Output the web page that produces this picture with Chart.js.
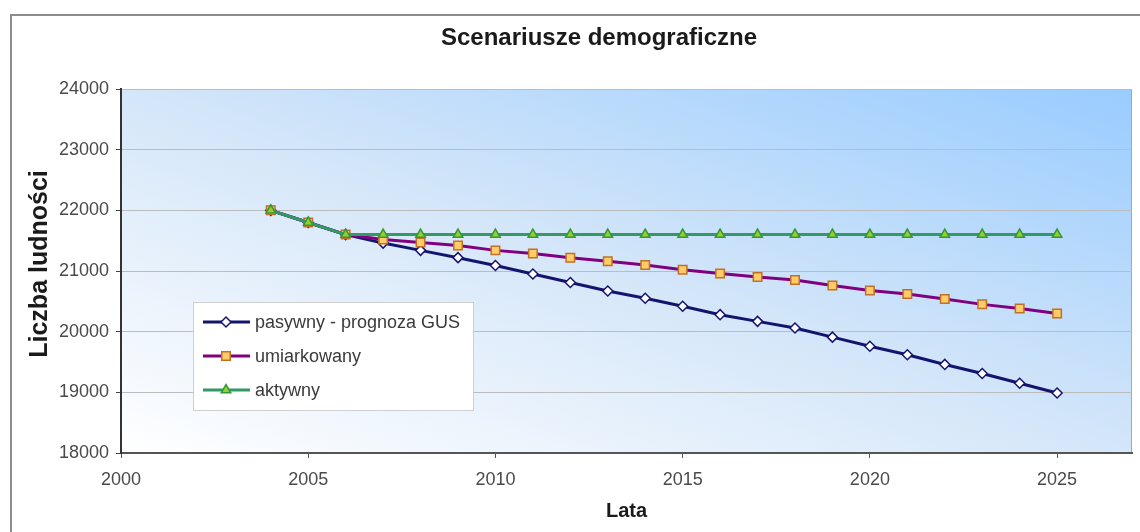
<!DOCTYPE html>
<html lang="pl">
<head>
<meta charset="utf-8">
<title>Scenariusze demograficzne</title>
<script src="https://cdn.jsdelivr.net/npm/chart.js@4.4.1/dist/chart.umd.min.js"></script>
<style>
  html, body { margin: 0; padding: 0; background: #ffffff; }
  body { width: 1140px; height: 532px; overflow: hidden; position: relative; }
  #chartBox {
    position: absolute;
    left: 10px;
    top: 14px;
    width: 1180px;
    height: 540px;
    border: 2px solid #8c8c8c;
    background: #ffffff;
  }
  #chartBox canvas { display: block; }
</style>
</head>
<body>
<div id="chartBox"><canvas id="scenarioChart" width="1180" height="540"></canvas></div>
<script>
  const years = [2004, 2005, 2006, 2007, 2008, 2009, 2010, 2011, 2012, 2013, 2014,
    2015, 2016, 2017, 2018, 2019, 2020, 2021, 2022, 2023, 2024, 2025];
  const pasywny = [22000, 21800, 21600, 21460, 21340, 21220, 21090, 20950, 20810, 20670, 20550,
    20420, 20280, 20170, 20060, 19910, 19760, 19620, 19460, 19310, 19150, 18990];
  const umiarkowany = [22000, 21800, 21600, 21520, 21470, 21420, 21340, 21290, 21220, 21160, 21100,
    21020, 20960, 20900, 20850, 20760, 20680, 20620, 20540, 20450, 20380, 20300];
  const aktywny = [22000, 21800, 21600, 21600, 21600, 21600, 21600, 21600, 21600, 21600, 21600,
    21600, 21600, 21600, 21600, 21600, 21600, 21600, 21600, 21600, 21600, 21600];
  const seriesNames = ["pasywny - prognoza GUS", "umiarkowany", "aktywny"];
  const yearTicks = { min: 2000, max: 2027, step: 5 };
  const populationTicks = { min: 18000, max: 24000, step: 1000 };
  const chartTitle = "Scenariusze demograficzne";
  const yAxisTitle = "Liczba ludności";

  const FONT = "'Liberation Sans', Arial, sans-serif";
  const toPoints = (values) => values.map((value, i) => ({ x: years[i], y: value }));

  // gradient fill of the plot area, white in the lower left corner, blue in the upper right
  const plotBackground = {
    id: "plotBackground",
    beforeDraw(chart) {
      const { ctx, chartArea: area } = chart;
      const w = area.right - area.left;
      const h = area.bottom - area.top;
      const m = (2 * w * h) / (w * w + h * h);
      const gradient = ctx.createLinearGradient(area.left, area.bottom, area.left + h * m, area.bottom - w * m);
      gradient.addColorStop(0, "#ffffff");
      gradient.addColorStop(0.5, "#d4e6f9");
      gradient.addColorStop(1, "#99ccff");
      ctx.save();
      ctx.fillStyle = gradient;
      ctx.fillRect(area.left, area.top, w, h);
      ctx.strokeStyle = "#a8a8a8";
      ctx.lineWidth = 1;
      ctx.strokeRect(area.left + 0.5, area.top + 0.5, w - 1, h);
      ctx.restore();
    },
  };

  // chart title and vertical axis title, placed like in the original sheet
  const sheetTitles = {
    id: "sheetTitles",
    afterDraw(chart) {
      const { ctx } = chart;
      ctx.save();
      ctx.fillStyle = "#1a1a1a";
      ctx.textAlign = "center";
      ctx.textBaseline = "middle";
      ctx.font = "bold 24px " + FONT;
      ctx.fillText(chartTitle, chart.width / 2 - 3, 22);
      ctx.translate(28, 248);
      ctx.rotate(-Math.PI / 2);
      ctx.font = "bold 25px " + FONT;
      ctx.fillText(yAxisTitle, 0, 0);
      ctx.restore();
    },
  };

  // legend box sitting inside the plot area
  const insideLegend = {
    id: "insideLegend",
    afterDraw(chart) {
      const { ctx, chartArea: area } = chart;
      const boxLeft = area.left + 72;
      const boxTop = area.top + 213;
      const rowGap = 34;
      ctx.save();
      ctx.fillStyle = "#ffffff";
      ctx.fillRect(boxLeft, boxTop, 280, 108);
      ctx.strokeStyle = "#d0d0d0";
      ctx.lineWidth = 1;
      ctx.strokeRect(boxLeft + 0.5, boxTop + 0.5, 280, 108);
      chart.data.datasets.forEach((dataset, i) => {
        const y = boxTop + 20 + i * rowGap;
        ctx.strokeStyle = dataset.borderColor;
        ctx.lineWidth = 3;
        ctx.beginPath();
        ctx.moveTo(boxLeft + 10, y);
        ctx.lineTo(boxLeft + 57, y);
        ctx.stroke();
        ctx.fillStyle = dataset.pointBackgroundColor;
        ctx.strokeStyle = dataset.pointBorderColor;
        ctx.lineWidth = dataset.pointBorderWidth;
        Chart.helpers.drawPoint(ctx, {
          pointStyle: dataset.pointStyle,
          radius: dataset.pointRadius,
          borderWidth: dataset.pointBorderWidth,
          rotation: 0,
        }, boxLeft + 33, y);
        ctx.fillStyle = "#3a3a3a";
        ctx.font = "18px " + FONT;
        ctx.textBaseline = "middle";
        ctx.textAlign = "left";
        ctx.fillText(dataset.label, boxLeft + 62, y + 1);
      });
      ctx.restore();
    },
  };

  new Chart(document.getElementById("scenarioChart"), {
    type: "line",
    data: {
      datasets: [
        {
          label: seriesNames[0],
          data: toPoints(pasywny),
          borderColor: "#14146e",
          borderWidth: 3,
          pointStyle: "rectRot",
          pointRadius: 5,
          pointBackgroundColor: "#ffffff",
          pointBorderColor: "#14146e",
          pointBorderWidth: 1.5,
          order: 3,
        },
        {
          label: seriesNames[1],
          data: toPoints(umiarkowany),
          borderColor: "#800080",
          borderWidth: 3,
          pointStyle: "rect",
          pointRadius: 6,
          pointBackgroundColor: "#ffcc66",
          pointBorderColor: "#c0702a",
          pointBorderWidth: 1.5,
          order: 2,
        },
        {
          label: seriesNames[2],
          data: toPoints(aktywny),
          borderColor: "#339966",
          borderWidth: 3,
          pointStyle: "triangle",
          pointRadius: 5.5,
          pointBackgroundColor: "#99cc33",
          pointBorderColor: "#339933",
          pointBorderWidth: 1.5,
          order: 1,
        },
      ],
    },
    options: {
      responsive: false,
      animation: false,
      layout: {
        padding: { left: 10, right: 60, top: 73, bottom: 23 },
      },
      elements: {
        line: { tension: 0 },
      },
      plugins: {
        legend: { display: false },
        tooltip: { enabled: false },
        title: { display: false },
      },
      scales: {
        x: {
          type: "linear",
          min: yearTicks.min,
          max: yearTicks.max,
          afterFit(scale) {
            scale.height = 80;
          },
          ticks: {
            stepSize: yearTicks.step,
            includeBounds: false,
            color: "#4a4a4a",
            padding: 11,
            font: { family: FONT, size: 18 },
            callback(value) {
              return String(value);
            },
          },
          grid: {
            drawOnChartArea: false,
            drawTicks: true,
            tickLength: 5,
            color: "#555555",
          },
          border: { color: "#555555", width: 2 },
          title: {
            display: true,
            text: "Lata",
            color: "#1a1a1a",
            font: { family: FONT, size: 20, weight: "bold" },
            padding: { top: 0, bottom: 10 },
          },
        },
        y: {
          min: populationTicks.min,
          max: populationTicks.max,
          afterFit(scale) {
            scale.width = 99;
          },
          ticks: {
            stepSize: populationTicks.step,
            color: "#4a4a4a",
            padding: 7,
            font: { family: FONT, size: 18 },
            callback(value) {
              return String(value);
            },
          },
          grid: {
            color: "#bcbcbc",
            tickColor: "#444444",
            tickLength: 5,
          },
          border: { color: "#333333", width: 2 },
        },
      },
    },
    plugins: [plotBackground, sheetTitles, insideLegend],
  });
</script>
</body>
</html>
